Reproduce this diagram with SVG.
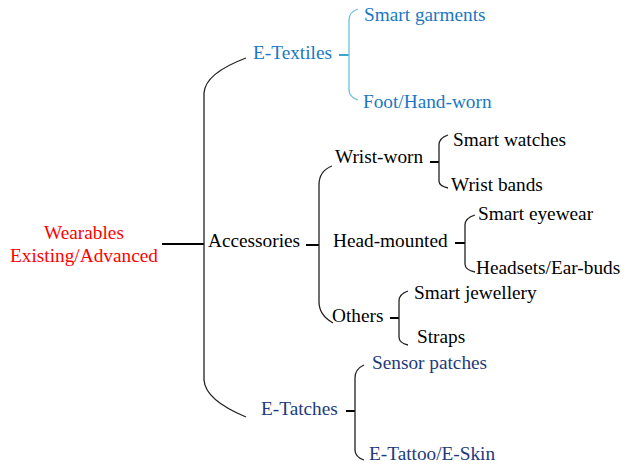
<svg xmlns="http://www.w3.org/2000/svg" width="625" height="466" viewBox="0 0 625 466" font-family="'Liberation Serif', 'DejaVu Serif', serif" font-size="19.3">
<style>
text{font-family:'Liberation Serif','DejaVu Serif',serif;font-size:19.3px}
.blk{fill:#000}
.tex{fill:#1a78c2}
.tat{fill:#1d3a7c}
.red{fill:#ff0000}
.br{fill:none;stroke:#222;stroke-width:1.3}
.brb{fill:none;stroke:#6cc0dc;stroke-width:1.3}
.tk{fill:none;stroke:#000;stroke-width:2}
.tkb{fill:none;stroke:#3aa6d0;stroke-width:2}
</style>
<rect width="625" height="466" fill="#fff"/>
<g id="connectors">
<path class="tk" d="M162,244H204"/>
<path class="br" d="M246,58C222,67 205,78 204,93V380C205,395 222,407 246,417"/>
<path class="tkb" d="M339,55H349"/>
<path class="brb" d="M358,9Q349,12 349,20V90Q349,97 358,100"/>
<path class="tk" d="M306,245H319"/>
<path class="br" d="M332,166Q319,171 319,185V302Q319,315 333,323"/>
<path class="tk" d="M430,162H439"/>
<path class="br" d="M448,135Q439,138 439,145V181Q439,186 448,188"/>
<path class="tk" d="M455,243H465"/>
<path class="br" d="M475,215Q465,218 465,225V264Q465,270 475,272"/>
<path class="tk" d="M390,318H399"/>
<path class="br" d="M408,291Q399,294 399,301V337Q399,343 408,345"/>
<path class="tk" d="M346,411H355"/>
<path class="br" d="M364,365Q355,369 355,378V450Q355,457 364,460"/>
</g>
<g id="root"><text class="red" x="84" y="239" text-anchor="middle">Wearables</text><text class="red" x="84" y="262" text-anchor="middle">Existing/Advanced</text></g>
<g id="etextiles"><text class="tex" x="253" y="59">E-Textiles</text></g>
<g id="smart-garments"><text class="tex" x="364" y="21">Smart garments</text></g>
<g id="foot-hand"><text class="tex" x="363" y="108">Foot/Hand-worn</text></g>
<g id="accessories"><text class="blk" x="208" y="247">Accessories</text></g>
<g id="wrist-worn"><text class="blk" x="335" y="163">Wrist-worn</text></g>
<g id="smart-watches"><text class="blk" x="453" y="146">Smart watches</text></g>
<g id="wrist-bands"><text class="blk" x="451" y="191">Wrist bands</text></g>
<g id="head-mounted"><text class="blk" x="333" y="247">Head-mounted</text></g>
<g id="smart-eyewear"><text class="blk" x="478" y="220">Smart eyewear</text></g>
<g id="headsets"><text class="blk" x="476" y="274">Headsets/Ear-buds</text></g>
<g id="others"><text class="blk" x="332" y="322">Others</text></g>
<g id="smart-jewellery"><text class="blk" x="414" y="299">Smart jewellery</text></g>
<g id="straps"><text class="blk" x="417" y="343">Straps</text></g>
<g id="etatches"><text class="tat" x="261" y="415">E-Tatches</text></g>
<g id="sensor-patches"><text class="tat" x="372" y="369">Sensor patches</text></g>
<g id="etattoo"><text class="tat" x="369" y="460">E-Tattoo/E-Skin</text></g>
</svg>
